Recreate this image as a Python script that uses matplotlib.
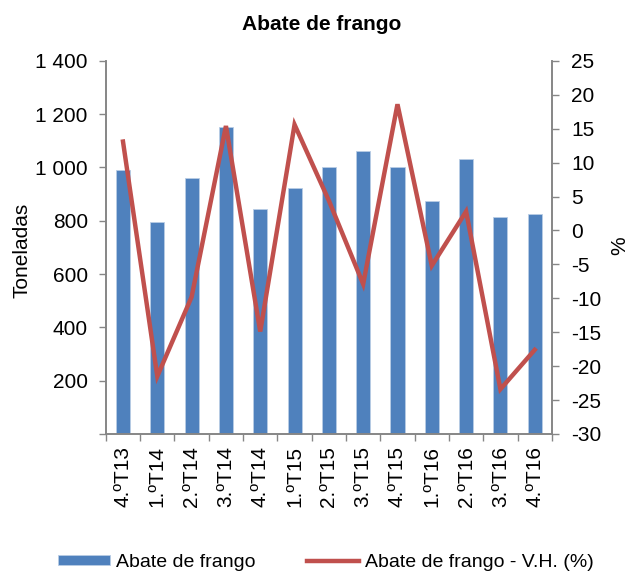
import matplotlib.pyplot as plt
from matplotlib.ticker import FuncFormatter

plt.rcParams['font.family'] = ['Liberation Sans', 'DejaVu Sans']
plt.rcParams['axes.unicode_minus'] = False

# dados
trimestres = ['4.ºT13', '1.ºT14', '2.ºT14', '3.ºT14', '4.ºT14', '1.ºT15', '2.ºT15',
              '3.ºT15', '4.ºT15', '1.ºT16', '2.ºT16', '3.ºT16', '4.ºT16']
toneladas = [991, 797, 961, 1153, 843, 921, 1003, 1062, 1000, 873, 1031, 813, 824]
vh = [13.1, -21.5, -9.8, 15.4, -14.9, 15.6, 4.4, -7.9, 18.6, -5.2, 2.8, -23.4, -17.6]

azul = '#4F81BD'
vermelho = '#C0504D'
cinza = '#868686'

fig = plt.figure(figsize=(6.3, 5.74), dpi=100)
ax = fig.add_axes([0.168, 0.244, 0.708, 0.650])
ax2 = ax.twinx()

x = range(len(trimestres))
ax.bar(x, toneladas, width=0.41, color=azul, edgecolor='#B9CDE5', linewidth=0.6,
       label='Abate de frango', zorder=2)
ax2.plot(x, vh, color=vermelho, lw=3.2, solid_joinstyle='miter',
         label='Abate de frango - V.H. (%)', zorder=3)

ax.set_xlim(-0.5, len(trimestres) - 0.5)
ax.set_ylim(0, 1400)
ax.set_yticks(range(0, 1401, 200))
ax.yaxis.set_major_formatter(FuncFormatter(
    lambda v, p: '' if v == 0 else f'{int(v):,}'.replace(',', ' ')))
ax2.set_ylim(-30, 25)
ax2.set_yticks(range(-30, 26, 5))

ax.set_xticks(list(x))
ax.set_xticklabels(trimestres, rotation=90, fontsize=15)
ax.set_xticks([i - 0.5 for i in range(len(trimestres) + 1)], minor=True)
ax.tick_params(axis='x', which='major', length=0, pad=9)
ax.tick_params(axis='x', which='minor', length=5, color=cinza, width=1)
ax.tick_params(axis='y', labelsize=15, length=5, color=cinza, width=1, pad=8)
ax2.tick_params(axis='y', labelsize=15, length=5, color=cinza, width=1, pad=9)

for a in (ax, ax2):
    a.spines['top'].set_visible(False)
    for s in ('left', 'right', 'bottom'):
        a.spines[s].set_color(cinza)
        a.spines[s].set_linewidth(1.2)

fig.text(22 / 630, 1 - 250 / 574, 'Toneladas', fontsize=15, rotation=90,
         ha='center', va='center')
fig.text(620 / 630, 1 - 246 / 574, '%', fontsize=15, rotation=90,
         ha='center', va='center')
fig.text(322 / 630, 1 - 24 / 574, 'Abate de frango', fontsize=15,
         fontweight='bold', ha='center', va='center')

h1, l1 = ax.get_legend_handles_labels()
h2, l2 = ax2.get_legend_handles_labels()
fig.legend(h1 + h2, l1 + l2, loc='center', bbox_to_anchor=(0.517, 0.02),
           ncol=2, frameon=False, fontsize=14, handlelength=2.67,
           handleheight=0.35, columnspacing=2.67, handletextpad=0.3,
           borderpad=0, borderaxespad=0)

fig.savefig('out.png', dpi=100)
